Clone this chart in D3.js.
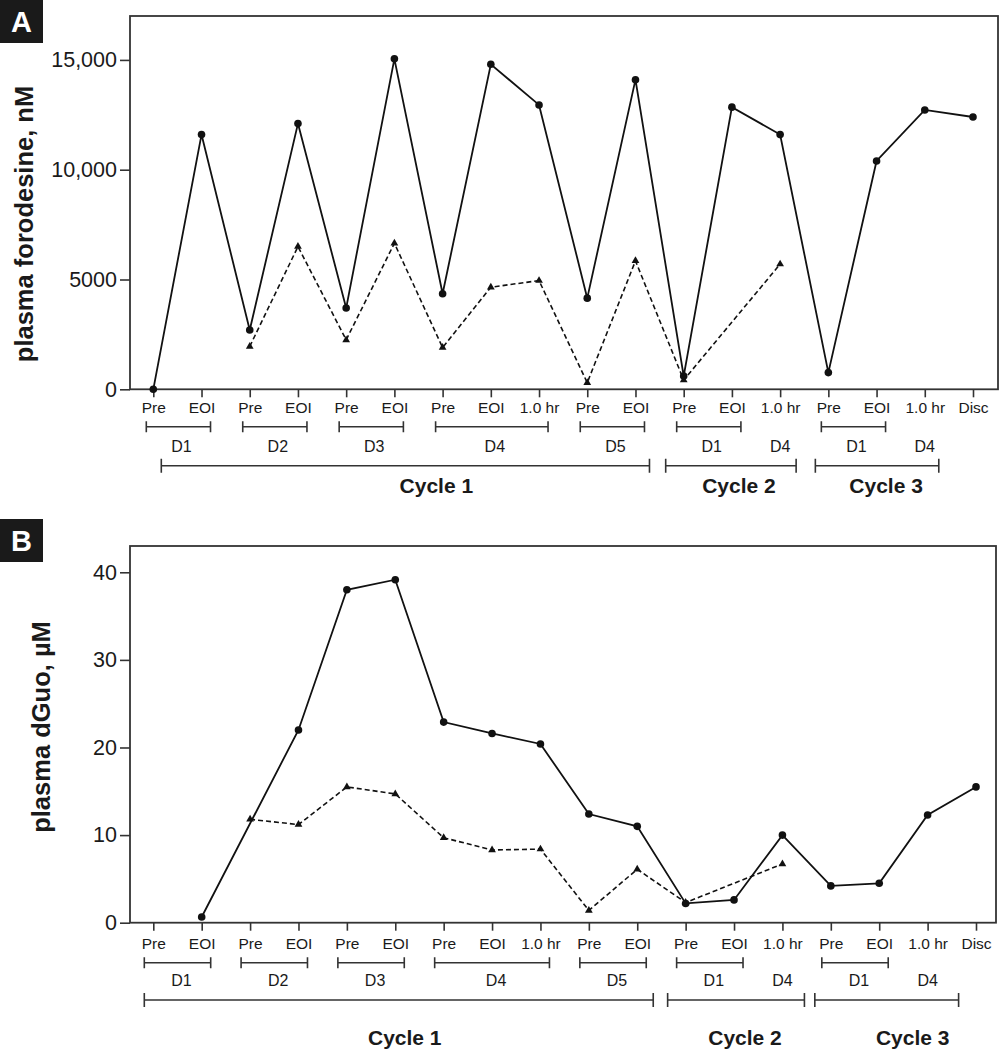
<!DOCTYPE html>
<style>

body {
  margin: 0;
  background: #fff;
}

text {
  font-family: "Liberation Sans", Arial, sans-serif;
  fill: #1a1a1a;
}

</style>
<body>
<script src="https://cdn.jsdelivr.net/npm/d3@7"></script>
<script>

// sampling times, left to right
var timepoints = ["Pre", "EOI", "Pre", "EOI", "Pre", "EOI", "Pre", "EOI", "1.0 hr",
    "Pre", "EOI", "Pre", "EOI", "1.0 hr", "Pre", "EOI", "1.0 hr", "Disc"];

// panel A, plasma forodesine (nM)
var forodesineSolid = [0, 11600, 2700, 12100, 3700, 15050, 4350, 14800, 12950,
    4150, 14100, 600, 12850, 11600, 760, 10400, 12720, 12400];
var forodesineDashed = [null, null, 1950, 6500, 2250, 6650, 1900, 4650, 4950,
    300, 5850, 420, null, 5700, null, null, null, null];
var forodesineTicks = [0, 5000, 10000, 15000];
var forodesineTickLabels = ["0", "5000", "10,000", "15,000"];

// panel B, plasma dGuo (uM)
var dguoSolid = [null, 0.65, null, 22.0, 38.0, 39.15, 22.9, 21.6, 20.4,
    12.4, 11.0, 2.2, 2.6, 10.0, 4.2, 4.5, 12.3, 15.5];
var dguoDashed = [null, null, 11.8, 11.2, 15.5, 14.7, 9.7, 8.3, 8.4,
    1.4, 6.1, 2.3, null, 6.7, null, null, null, null];
var dguoTicks = [0, 10, 20, 30, 40];
var dguoTickLabels = ["0", "10", "20", "30", "40"];

// day and cycle groupings (indices into timepoints)
var days = [
  {label: "D1", from: 0, to: 1},
  {label: "D2", from: 2, to: 3},
  {label: "D3", from: 4, to: 5},
  {label: "D4", from: 6, to: 8},
  {label: "D5", from: 9, to: 10},
  {label: "D1", from: 11, to: 12},
  {label: "D1", from: 14, to: 15}
];
var looseDays = [{label: "D4", at: 13}, {label: "D4", at: 16}];
var cycles = [
  {label: "Cycle 1", from: 0, to: 10},
  {label: "Cycle 2", from: 11, to: 13},
  {label: "Cycle 3", from: 14, to: 16}
];

var panels = [
  {letter: "A", letterTop: 0, top: 16, bottom: 389.3, left: 130, right: 998,
   xRange: [153.3, 973], domain: [0, 17000],
   solid: forodesineSolid, dashed: forodesineDashed,
   ticks: forodesineTicks, tickLabels: forodesineTickLabels,
   title: "plasma forodesine, nM", titleX: 33, titleY: 224,
   tickText: 23.4, dayY: 37.4, dayText: 62.4, cycleY: 76.4, cycleText: 103.4,
   dayPad: [-7, 9], dayDx: 3,
   cyclePad: [[8, 14], [-18, 16], [-13, 14]], cycleDx: [31, 8, 9]},
  {letter: "B", letterTop: 519, top: 546, bottom: 922.7, left: 130, right: 996,
   xRange: [153.3, 976], domain: [0, 43],
   solid: dguoSolid, dashed: dguoDashed,
   ticks: dguoTicks, tickLabels: dguoTickLabels,
   title: "plasma dGuo, \u00b5M", titleX: 50, titleY: 727,
   tickText: 26.6, dayY: 40, dayText: 63.3, cycleY: 77.3, cycleText: 122,
   dayPad: [-9, 9], dayDx: 4,
   cyclePad: [[-9, 16], [-18, 22], [-16, 31]], cycleDx: [6, 9, 26]}
];

var svg = d3.select("body").append("svg")
    .attr("width", 1002)
    .attr("height", 1050);

panels.forEach(drawPanel);

function drawPanel(p) {
  var g = svg.append("g");

  var x = d3.scalePoint()
      .domain(d3.range(timepoints.length))
      .range(p.xRange);

  var y = d3.scaleLinear()
      .domain(p.domain)
      .range([p.bottom, p.top]);

  // panel letter
  g.append("rect")
      .attr("x", 0)
      .attr("y", p.letterTop)
      .attr("width", 43)
      .attr("height", 43)
      .attr("fill", "#1a1a1a");
  g.append("text")
      .attr("x", 21.5)
      .attr("y", p.letterTop + 32)
      .attr("text-anchor", "middle")
      .style("fill", "#fff")
      .style("font-weight", "bold")
      .style("font-size", "29px")
      .text(p.letter);

  // axes
  var xAxis = g.append("g")
      .attr("transform", "translate(0," + p.bottom + ")")
      .call(d3.axisBottom(x)
          .tickSize(8)
          .tickSizeOuter(0)
          .tickFormat(function(i) { return timepoints[i]; }));
  xAxis.select(".domain").remove();
  xAxis.selectAll("line").attr("stroke", "#333").attr("stroke-width", 1.6);
  xAxis.selectAll("text")
      .attr("dy", null)
      .attr("y", p.tickText)
      .style("font-size", "15.5px");

  var yAxis = g.append("g")
      .attr("transform", "translate(" + p.left + ",0)")
      .call(d3.axisLeft(y)
          .tickValues(p.ticks)
          .tickSize(10)
          .tickPadding(3)
          .tickFormat(function(d, i) { return p.tickLabels[i]; }));
  yAxis.select(".domain").remove();
  yAxis.selectAll("line").attr("stroke", "#333").attr("stroke-width", 1.6);
  yAxis.selectAll("text").style("font-size", "21.5px");

  g.append("rect")
      .attr("x", p.left)
      .attr("y", p.top)
      .attr("width", p.right - p.left)
      .attr("height", p.bottom - p.top)
      .attr("fill", "none")
      .attr("stroke", "#333")
      .attr("stroke-width", 1.8);

  g.append("text")
      .attr("transform", "translate(" + p.titleX + "," + p.titleY + ")rotate(-90)")
      .attr("text-anchor", "middle")
      .style("font-weight", "bold")
      .style("font-size", "25.5px")
      .text(p.title);

  // series, gaps bridged by dropping missing values
  var line = d3.line()
      .x(function(d) { return x(d.i); })
      .y(function(d) { return y(d.v); });

  function points(values) {
    return values.map(function(v, i) { return {i: i, v: v}; })
        .filter(function(d) { return d.v != null; });
  }

  var dashed = points(p.dashed),
      solid = points(p.solid);

  g.append("path")
      .datum(dashed)
      .attr("fill", "none")
      .attr("stroke", "#111")
      .attr("stroke-width", 1.6)
      .attr("stroke-dasharray", "5,3")
      .attr("d", line);

  g.selectAll(".tri")
      .data(dashed)
    .enter().append("path")
      .attr("class", "tri")
      .attr("fill", "#111")
      .attr("transform", function(d) { return "translate(" + x(d.i) + "," + y(d.v) + ")"; })
      .attr("d", d3.symbol().type(d3.symbolTriangle).size(26));

  g.append("path")
      .datum(solid)
      .attr("fill", "none")
      .attr("stroke", "#111")
      .attr("stroke-width", 1.8)
      .attr("d", line);

  g.selectAll(".dot")
      .data(solid)
    .enter().append("circle")
      .attr("class", "dot")
      .attr("fill", "#111")
      .attr("cx", function(d) { return x(d.i); })
      .attr("cy", function(d) { return y(d.v); })
      .attr("r", 3.8);

  // day brackets
  days.forEach(function(d) {
    var x0 = x(d.from) + p.dayPad[0],
        x1 = x(d.to) + p.dayPad[1];
    bracket(g, x0, x1, p.bottom + p.dayY, 5.5);
    g.append("text")
        .attr("x", (x0 + x1) / 2 + p.dayDx)
        .attr("y", p.bottom + p.dayText)
        .attr("text-anchor", "middle")
        .style("font-size", "16px")
        .text(d.label);
  });

  looseDays.forEach(function(d) {
    g.append("text")
        .attr("x", x(d.at))
        .attr("y", p.bottom + p.dayText)
        .attr("text-anchor", "middle")
        .style("font-size", "16px")
        .text(d.label);
  });

  // cycle brackets
  cycles.forEach(function(c, k) {
    var x0 = x(c.from) + p.cyclePad[k][0],
        x1 = x(c.to) + p.cyclePad[k][1];
    bracket(g, x0, x1, p.bottom + p.cycleY, 7);
    g.append("text")
        .attr("x", (x0 + x1) / 2 + p.cycleDx[k])
        .attr("y", p.bottom + p.cycleText)
        .attr("text-anchor", "middle")
        .style("font-weight", "bold")
        .style("font-size", "21px")
        .text(c.label);
  });
}

function bracket(g, x0, x1, yy, h) {
  g.append("path")
      .attr("fill", "none")
      .attr("stroke", "#333")
      .attr("stroke-width", 1.6)
      .attr("d", "M" + x0 + "," + (yy - h) + "V" + (yy + h)
          + "M" + x0 + "," + yy + "H" + x1
          + "M" + x1 + "," + (yy - h) + "V" + (yy + h));
}

</script>
